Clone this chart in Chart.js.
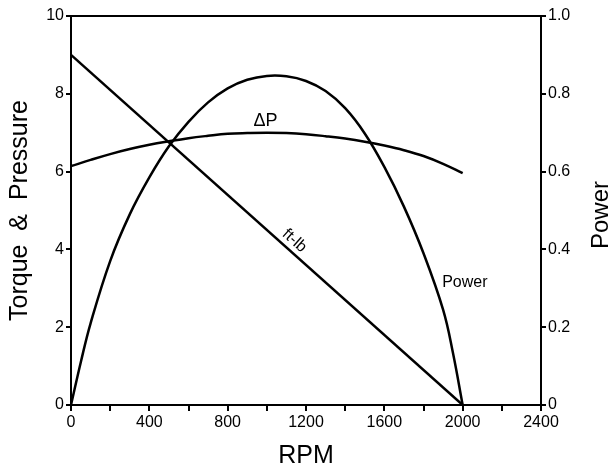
<!DOCTYPE html>
<html>
<head>
<meta charset="utf-8">
<script src="https://cdn.jsdelivr.net/npm/chart.js@4"></script>
<style>
html,body{margin:0;padding:0;background:#fff;}
canvas{display:block;}
</style>
</head>
<body>
<canvas id="c" width="616" height="471"></canvas>
<script>
// ---- Data ----
const powerRpm   = [0, 50, 100, 200, 300, 400, 500, 600, 700, 800, 900, 1000, 1100, 1200, 1300, 1400, 1500, 1600, 1700, 1800, 1900, 1950, 2000];
const powerVals  = [0, 0.11, 0.21, 0.37, 0.49, 0.585, 0.665, 0.728, 0.778, 0.814, 0.836, 0.846, 0.845, 0.833, 0.807, 0.763, 0.698, 0.612, 0.51, 0.39, 0.245, 0.135, 0];
const dpRpm      = [0, 100, 200, 300, 400, 500, 600, 700, 800, 900, 1000, 1100, 1200, 1300, 1400, 1500, 1600, 1700, 1800, 1900, 2000];
const dpVals     = [6.14, 6.30, 6.45, 6.58, 6.69, 6.78, 6.86, 6.92, 6.97, 6.99, 7.0, 6.99, 6.96, 6.91, 6.85, 6.77, 6.67, 6.55, 6.40, 6.20, 5.96];
const torqueRpm  = [0, 2000];
const torqueVals = [9.0, 0];
const xTicks     = [0, 400, 800, 1200, 1600, 2000, 2400];
const leftTicks  = [0, 2, 4, 6, 8, 10];
const rightTicks = ['0', '0.2', '0.4', '0.6', '0.8', '1.0'];
const labels = {
  xTitle: 'RPM', leftTitle: 'Torque  &  Pressure', rightTitle: 'Power',
  dp: 'ΔP', torque: 'ft-lb', power: 'Power'
};
// label anchor positions in data units
const dpLabelAt = {x: 993, y: 7.30};
const torqueLabelAt = {x: 1141, y: 4.22};
const powerLabelAt = {x: 2011, y: 0.314};

const FONT = 'Liberation Sans, Arial, Helvetica, sans-serif';

const pts = (xs, ys) => xs.map((x, i) => ({x, y: ys[i]}));

const decor = {
  id: 'decor',
  afterDatasetsDraw(chart) {
    const {ctx, chartArea, scales} = chart;
    ctx.save();
    // top frame
    ctx.strokeStyle = '#000';
    ctx.lineWidth = 2;
    ctx.beginPath();
    ctx.moveTo(chartArea.left, chartArea.top);
    ctx.lineTo(chartArea.right, chartArea.top);
    ctx.stroke();
    ctx.fillStyle = '#000';
    ctx.textAlign = 'center';
    ctx.textBaseline = 'middle';
    // ΔP
    ctx.font = '18px ' + FONT;
    ctx.fillText(labels.dp, scales.x.getPixelForValue(dpLabelAt.x), scales.y.getPixelForValue(dpLabelAt.y));
    // ft-lb rotated along line
    const x0 = scales.x.getPixelForValue(torqueRpm[0]), y0 = scales.y.getPixelForValue(torqueVals[0]);
    const x1 = scales.x.getPixelForValue(torqueRpm[1]), y1 = scales.y.getPixelForValue(torqueVals[1]);
    const ang = Math.atan2(y1 - y0, x1 - x0);
    ctx.save();
    ctx.translate(scales.x.getPixelForValue(torqueLabelAt.x), scales.y.getPixelForValue(torqueLabelAt.y));
    ctx.rotate(ang);
    ctx.font = '16px ' + FONT;
    ctx.fillText(labels.torque, 0, 0);
    ctx.restore();
    // Power label
    ctx.font = '16px ' + FONT;
    ctx.fillText(labels.power, scales.x.getPixelForValue(powerLabelAt.x), scales.y1.getPixelForValue(powerLabelAt.y));
    // right axis title, reading bottom to top
    ctx.save();
    ctx.translate(601, 215);
    ctx.rotate(-Math.PI / 2);
    ctx.font = '24px ' + FONT;
    ctx.fillText(labels.rightTitle, 0, 0);
    ctx.restore();
    ctx.restore();
  }
};

const lineStyle = {borderColor: '#000', borderWidth: 2.5, pointRadius: 0, fill: false, showLine: true, tension: 0.4};

new Chart(document.getElementById('c'), {
  type: 'scatter',
  data: {
    datasets: [
      Object.assign({label: 'Power', data: pts(powerRpm, powerVals), yAxisID: 'y1'}, lineStyle),
      Object.assign({label: 'ΔP', data: pts(dpRpm, dpVals), yAxisID: 'y'}, lineStyle),
      Object.assign({label: 'ft-lb', data: pts(torqueRpm, torqueVals), yAxisID: 'y'}, lineStyle, {tension: 0})
    ]
  },
  options: {
    responsive: false,
    animation: false,
    events: [],
    layout: {padding: {top: 16, left: 0, right: 0, bottom: 0}},
    plugins: {legend: {display: false}, tooltip: {enabled: false}},
    scales: {
      x: {
        type: 'linear', position: 'bottom', min: 0, max: 2400,
        afterBuildTicks(scale) {
          const t = [];
          for (let i = 0; i < xTicks.length; i++) {
            t.push({value: xTicks[i]});
            if (i < xTicks.length - 1) t.push({value: (xTicks[i] + xTicks[i + 1]) / 2, minor: true});
          }
          scale.ticks = t;
        },
        ticks: {
          autoSkip: false, maxRotation: 0, color: '#000', padding: 2,
          font: {family: FONT, size: 16},
          callback: (v) => xTicks.includes(v) ? String(v) : ''
        },
        grid: {drawOnChartArea: false, drawTicks: true, tickLength: 6, color: '#000', lineWidth: 2},
        border: {display: true, color: '#000', width: 2},
        title: {display: true, text: labels.xTitle, color: '#000', font: {family: FONT, size: 25, lineHeight: 1.2}, padding: {top: 0, bottom: 0}},
        afterFit(scale) { scale.height = 66; }
      },
      y: {
        type: 'linear', position: 'left', min: 0, max: 10,
        afterBuildTicks(scale) { scale.ticks = leftTicks.map(v => ({value: v})); },
        ticks: {color: '#000', padding: 2, font: {family: FONT, size: 16}},
        grid: {drawOnChartArea: false, drawTicks: true, tickLength: 5, color: '#000', lineWidth: 2},
        border: {display: true, color: '#000', width: 2},
        title: {display: true, text: labels.leftTitle, color: '#000', font: {family: FONT, size: 25, lineHeight: 1.2}, padding: {top: 5, bottom: 0}},
        afterFit(scale) { scale.width = 71; }
      },
      y1: {
        type: 'linear', position: 'right', min: 0, max: 1,
        afterBuildTicks(scale) { scale.ticks = rightTicks.map(v => ({value: parseFloat(v)})); },
        ticks: {color: '#000', padding: 2, font: {family: FONT, size: 16},
          callback: (v) => rightTicks.find(s => Math.abs(parseFloat(s) - v) < 1e-9)},
        grid: {drawOnChartArea: false, drawTicks: true, tickLength: 5, color: '#000', lineWidth: 2},
        border: {display: true, color: '#000', width: 2},
        afterFit(scale) { scale.width = 75; }
      }
    }
  },
  plugins: [decor]
});
</script>
</body>
</html>
